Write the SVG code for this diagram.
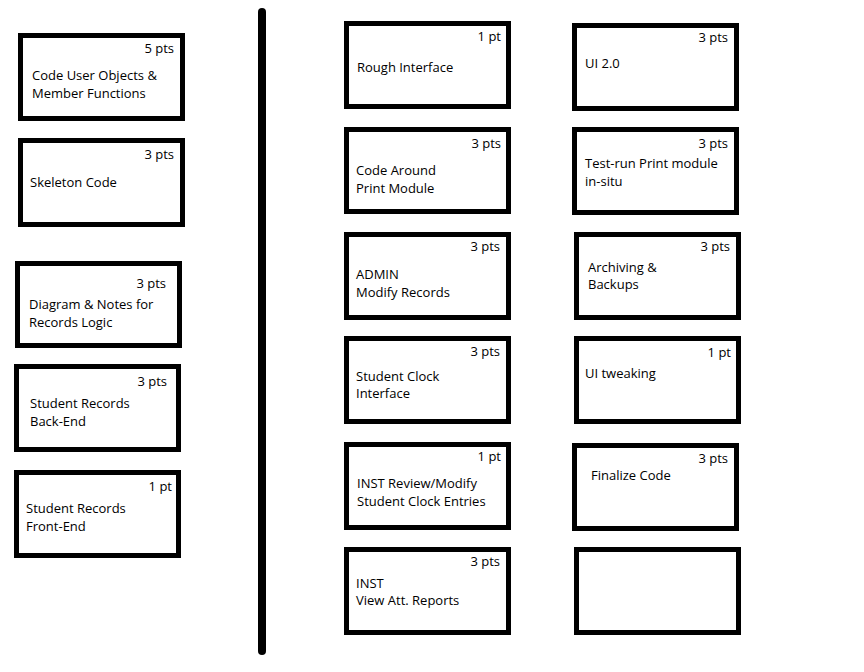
<svg xmlns="http://www.w3.org/2000/svg" width="864" height="672" viewBox="0 0 864 672">
<style>
.box{fill:#fff;stroke:#000;stroke-width:5}
text{font-family:"Open Sans","Noto Sans","DejaVu Sans",sans-serif;font-size:13px;fill:#000}
.pts{text-anchor:end}
</style>
<rect width="864" height="672" fill="#fff"/>
<g id="connectors">
<line x1="262" y1="12" x2="262" y2="651" stroke="#000" stroke-width="8" stroke-linecap="round"/>
</g>
<g id="n1"><rect class="box" x="20.5" y="35.5" width="162" height="83"/><text class="pts" x="174" y="53">5 pts</text><text x="32" y="80">Code User Objects &amp;</text><text x="32" y="98">Member Functions</text></g>
<g id="n2"><rect class="box" x="20.5" y="140.5" width="162" height="84"/><text class="pts" x="174" y="159">3 pts</text><text x="30" y="187">Skeleton Code</text></g>
<g id="n3"><rect class="box" x="17.5" y="263.5" width="162" height="82"/><text class="pts" x="166" y="288">3 pts</text><text x="29" y="309">Diagram &amp; Notes for</text><text x="29" y="327">Records Logic</text></g>
<g id="n4"><rect class="box" x="16.5" y="366.5" width="162" height="83"/><text class="pts" x="167" y="386">3 pts</text><text x="30" y="408">Student Records</text><text x="30" y="426">Back-End</text></g>
<g id="n5"><rect class="box" x="16.5" y="472.5" width="162" height="83"/><text class="pts" x="172" y="491">1 pt</text><text x="26" y="513">Student Records</text><text x="26" y="531">Front-End</text></g>
<g id="n6"><rect class="box" x="346.5" y="23.5" width="162" height="83"/><text class="pts" x="501" y="41">1 pt</text><text x="357" y="72">Rough Interface</text></g>
<g id="n7"><rect class="box" x="346.5" y="129.5" width="162" height="82"/><text class="pts" x="501" y="148">3 pts</text><text x="356" y="175">Code Around</text><text x="356" y="193">Print Module</text></g>
<g id="n8"><rect class="box" x="346.5" y="234.5" width="162" height="83"/><text class="pts" x="500" y="251">3 pts</text><text x="356" y="279">ADMIN</text><text x="356" y="297">Modify Records</text></g>
<g id="n9"><rect class="box" x="346.5" y="338.5" width="162" height="83"/><text class="pts" x="500" y="356">3 pts</text><text x="356" y="381">Student Clock</text><text x="356" y="398">Interface</text></g>
<g id="n10"><rect class="box" x="346.5" y="444.5" width="162" height="83"/><text class="pts" x="501" y="461">1 pt</text><text x="357" y="488">INST Review/Modify</text><text x="357" y="506">Student Clock Entries</text></g>
<g id="n11"><rect class="box" x="346.5" y="549.5" width="162" height="83"/><text class="pts" x="500" y="566">3 pts</text><text x="356" y="588">INST</text><text x="356" y="605">View Att. Reports</text></g>
<g id="n12"><rect class="box" x="574.5" y="25.5" width="162" height="83"/><text class="pts" x="728" y="42">3 pts</text><text x="585" y="68">UI 2.0</text></g>
<g id="n13"><rect class="box" x="574.5" y="129.5" width="162" height="83"/><text class="pts" x="728" y="148">3 pts</text><text x="585" y="168">Test-run Print module</text><text x="585" y="186">in-situ</text></g>
<g id="n14"><rect class="box" x="576.5" y="234.5" width="162" height="83"/><text class="pts" x="730" y="251">3 pts</text><text x="588" y="272">Archiving &amp;</text><text x="588" y="289">Backups</text></g>
<g id="n15"><rect class="box" x="576.5" y="338.5" width="162" height="83"/><text class="pts" x="731" y="357">1 pt</text><text x="585" y="378">UI tweaking</text></g>
<g id="n16"><rect class="box" x="574.5" y="445.5" width="162" height="83"/><text class="pts" x="728" y="463">3 pts</text><text x="591" y="480">Finalize Code</text></g>
<g id="n17"><rect class="box" x="576.5" y="549.5" width="162" height="83"/></g>
</svg>
